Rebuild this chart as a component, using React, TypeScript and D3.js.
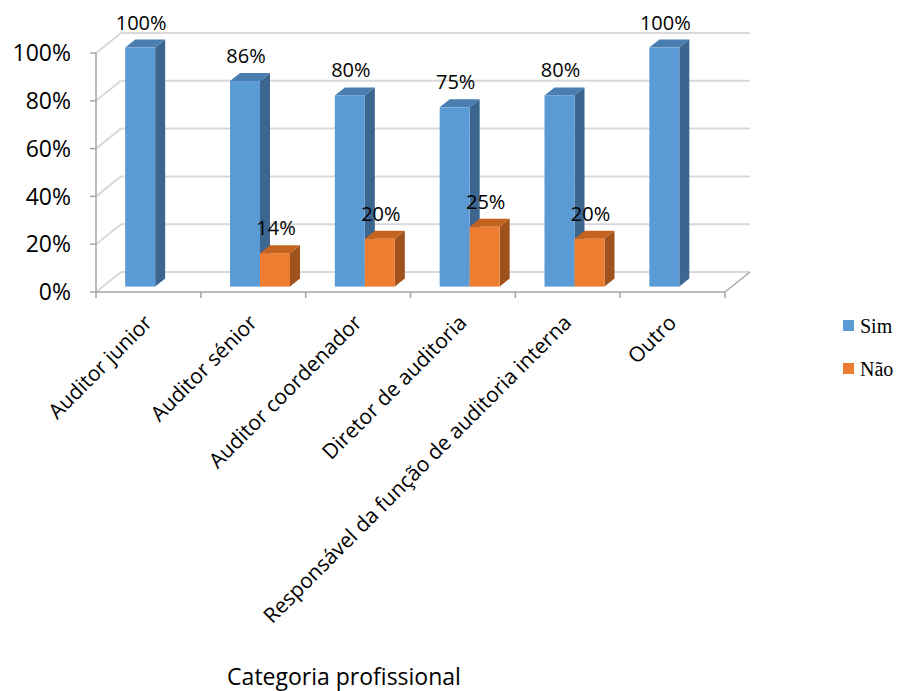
import React from "react";
import * as d3 from "d3";

const categories = [
  "Auditor junior",
  "Auditor sénior",
  "Auditor coordenador",
  "Diretor de auditoria",
  "Responsável da função de auditoria interna",
  "Outro",
];
const seriesNames = ["Sim", "Não"];
const simValues: (number | null)[] = [1.0, 0.86, 0.8, 0.75, 0.8, 1.0];
const naoValues: (number | null)[] = [null, 0.14, 0.2, 0.25, 0.2, null];
const yTicks = [0, 0.2, 0.4, 0.6, 0.8, 1.0];
const xTitle = "Categoria profissional";

const W = 903;
const H = 691;
const left = 96;
const right = 725;
const bottom = 292;
const top = 53;
const depthX = 25;
const depthY = -20;
const barFrontFrac = 0.27;
const barDepthFrac = 0.4;
const barW = 30;

const colors = {
  Sim: { front: "#5B9BD5", top: "#4A7DB0", side: "#3C6590" },
  Não: { front: "#ED7D31", top: "#C4621F", side: "#A0521D" },
};

const font = "'Open Sans', sans-serif";

export default function App() {
  const x = d3.scaleBand<string>().domain(categories).range([left, right]).padding(0);
  const bw = x.bandwidth();
  const outer = (bw / barW - 2) / 2;
  const inner = d3
    .scaleBand<string>()
    .domain(seriesNames)
    .range([0, bw])
    .paddingInner(0)
    .paddingOuter(outer);
  const y = d3.scaleLinear().domain([0, 1]).range([bottom, top]);
  const pct = d3.format(".0%");

  const ox = barFrontFrac * depthX;
  const oy = barFrontFrac * depthY;
  const bdx = barDepthFrac * depthX;
  const bdy = barDepthFrac * depthY;

  const bars: JSX.Element[] = [];
  const labels: JSX.Element[] = [];
  categories.forEach((c, i) => {
    const vals: [string, number | null][] = [
      ["Sim", simValues[i]],
      ["Não", naoValues[i]],
    ];
    vals.forEach(([s, v]) => {
      if (v == null) return;
      const x0 = (x(c) as number) + (inner(s) as number) + ox;
      const x1 = x0 + inner.bandwidth();
      const yt = y(v) + oy;
      const yb = y(0) + oy;
      const col = (colors as any)[s];
      const topPts = [
        [x0, yt],
        [x1, yt],
        [x1 + bdx, yt + bdy],
        [x0 + bdx, yt + bdy],
      ];
      const sidePts = [
        [x1, yt],
        [x1 + bdx, yt + bdy],
        [x1 + bdx, yb + bdy],
        [x1, yb],
      ];
      bars.push(
        <g key={c + s}>
          <polygon points={sidePts.map((p) => p.join(",")).join(" ")} fill={col.side} />
          <polygon points={topPts.map((p) => p.join(",")).join(" ")} fill={col.top} />
          <rect x={x0} y={yt} width={x1 - x0} height={yb - yt} fill={col.front} />
        </g>
      );
      labels.push(
        <text
          key={"l" + c + s}
          x={(x0 + x1) / 2 + 1}
          y={yt - 18}
          textAnchor="middle"
          fontFamily={font}
          fontSize={20}
          fill="#000"
        >
          {pct(v)}
        </text>
      );
    });
  });

  return (
    <div style={{ position: "absolute", left: 0, top: 0 }}>
      <svg width={W} height={H} viewBox={`0 0 ${W} ${H}`} style={{ display: "block", background: "#fff" }}>
        {/* back wall and side wall gridlines */}
        {yTicks.map((t) => (
          <g key={"g" + t}>
            <line
              x1={left + depthX}
              x2={right + depthX}
              y1={y(t) + depthY}
              y2={y(t) + depthY}
              stroke="#D9D9D9"
              strokeWidth={2}
            />
            <line
              x1={left}
              x2={left + depthX}
              y1={y(t)}
              y2={y(t) + depthY}
              stroke="#D9D9D9"
              strokeWidth={2}
            />
          </g>
        ))}
        {/* floor */}
        <line x1={left} x2={right} y1={y(0)} y2={y(0)} stroke="#A6A6A6" strokeWidth={1.5} />
        <line
          x1={right}
          x2={right + depthX}
          y1={y(0)}
          y2={y(0) + depthY}
          stroke="#A6A6A6"
          strokeWidth={1.5}
        />
        {/* y axis */}
        <line x1={left} x2={left} y1={y(1)} y2={y(0)} stroke="#A6A6A6" strokeWidth={1.5} />
        {yTicks.map((t) => (
          <g key={"yt" + t}>
            <line x1={left - 6} x2={left} y1={y(t)} y2={y(t)} stroke="#A6A6A6" strokeWidth={1.5} />
            <text
              x={left - 25}
              y={y(t)}
              dy="0.36em"
              textAnchor="end"
              fontFamily={font}
              fontSize={23}
              fill="#000"
            >
              {pct(t)}
            </text>
          </g>
        ))}
        {/* x ticks */}
        {[...categories.map((c) => x(c) as number), right].map((p, i) => (
          <line key={"xt" + i} x1={p} x2={p} y1={y(0)} y2={y(0) + 6} stroke="#A6A6A6" strokeWidth={1.5} />
        ))}
        {bars}
        {labels}
        {/* category labels */}
        {categories.map((c) => (
          <text
            key={"c" + c}
            transform={`translate(${(x(c) as number) + bw / 2 + 5},${y(0) + 32}) rotate(-45)`}
            textAnchor="end"
            fontFamily={font}
            fontSize={21}
            fill="#000"
          >
            {c}
          </text>
        ))}
        <text x={344} y={685} textAnchor="middle" fontFamily={font} fontSize={23} fill="#000">
          {xTitle}
        </text>
        {/* legend */}
        {seriesNames.map((s, i) => (
          <g key={"lg" + s}>
            <rect x={843} y={320 + i * 43} width={11} height={11} fill={(colors as any)[s].front} />
            <text x={860} y={333 + i * 43} fontFamily="'Liberation Serif', serif" fontSize={20} fill="#000">
              {s}
            </text>
          </g>
        ))}
      </svg>
    </div>
  );
}
